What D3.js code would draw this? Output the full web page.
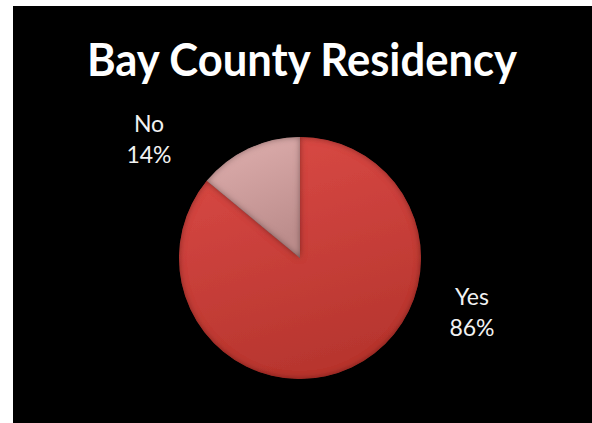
<!DOCTYPE html>
<html>
<head>
<meta charset="utf-8">
<script src="https://cdn.jsdelivr.net/npm/d3@7"></script>
<style>
  body { margin: 0; background: #fff; }
  svg { display: block; }
</style>
</head>
<body>
<div id="chart"></div>
<script>
// data
const categories = ["Yes", "No"]
const values = [86, 14]
const pctLabels = ["86%", "14%"]

// layout
const W = 592, H = 423
const cx = 300, cy = 258, R = 121
// label spots picked by the original (best fit), by category
const labelSpot = { Yes: [472, 305], No: [149, 132] }
const sliceColors = { Yes: ["#dc4b47", "#b8362f"], No: ["#e0b0af", "#bc8d8c"] }

let svg = d3.select("#chart")
    .append("svg")
    .attr("width", W)
    .attr("height", H)

// black panel
svg.append("rect")
    .attr("x", 13).attr("y", 6)
    .attr("width", W - 13).attr("height", H - 6)
    .attr("fill", "#000")

let defs = svg.append("defs")
categories.forEach((c) => {
    let g = defs.append("linearGradient")
        .attr("id", "grad-" + c)
        .attr("x1", 0).attr("y1", 0).attr("x2", 0.3).attr("y2", 1)
    g.append("stop").attr("offset", "0%").attr("stop-color", sliceColors[c][0])
    g.append("stop").attr("offset", "100%").attr("stop-color", sliceColors[c][1])
})

// soft bevel: darken inside edges
let f = defs.append("filter").attr("id", "bevel")
    .attr("x", "-10%").attr("y", "-10%").attr("width", "120%").attr("height", "120%")
f.append("feGaussianBlur").attr("in", "SourceAlpha").attr("stdDeviation", 3).attr("result", "blur")
f.append("feComposite").attr("in", "SourceAlpha").attr("in2", "blur")
    .attr("operator", "arithmetic").attr("k2", 1).attr("k3", -1).attr("result", "edge")
f.append("feFlood").attr("flood-color", "#2a0a0a").attr("flood-opacity", 0.75)
f.append("feComposite").attr("in2", "edge").attr("operator", "in").attr("result", "shadow")
let m = f.append("feMerge")
m.append("feMergeNode").attr("in", "SourceGraphic")
m.append("feMergeNode").attr("in", "shadow")

// title
let title = svg.append("text")
    .attr("x", 302).attr("y", 76)
    .attr("text-anchor", "middle")
    .attr("fill", "#fff")
    .style("font-family", "Lato, 'Open Sans', sans-serif")
    .style("font-weight", "bold")
    .style("font-size", "45px")
    .text("Bay County Residency")
let tw = title.node().getComputedTextLength()
if (tw > 0) title.attr("textLength", 430).attr("lengthAdjust", "spacingAndGlyphs")

// pie
let pie = d3.pie().sort(null).value((d) => d.value)
let arc = d3.arc().innerRadius(0).outerRadius(R)
let data = categories.map((c, i) => ({ cat: c, value: values[i], label: pctLabels[i] }))

svg.append("g")
    .attr("transform", `translate(${cx},${cy})`)
    .selectAll("path")
    .data(pie(data))
    .enter()
    .append("path")
    .attr("d", arc)
    .attr("fill", (d) => `url(#grad-${d.data.cat})`)
    .attr("filter", "url(#bevel)")

// labels
let lab = svg.append("g")
    .selectAll("text")
    .data(data)
    .enter()
    .append("text")
    .attr("x", (d) => labelSpot[d.cat][0])
    .attr("y", (d) => labelSpot[d.cat][1])
    .attr("text-anchor", "middle")
    .attr("fill", "#f2f2f2")
    .style("font-family", "Lato, 'Open Sans', sans-serif")
    .style("font-size", "23px")
lab.append("tspan").text((d) => d.cat)
lab.append("tspan")
    .attr("x", (d) => labelSpot[d.cat][0])
    .attr("dy", 31)
    .text((d) => d.label)
</script>
</body>
</html>
